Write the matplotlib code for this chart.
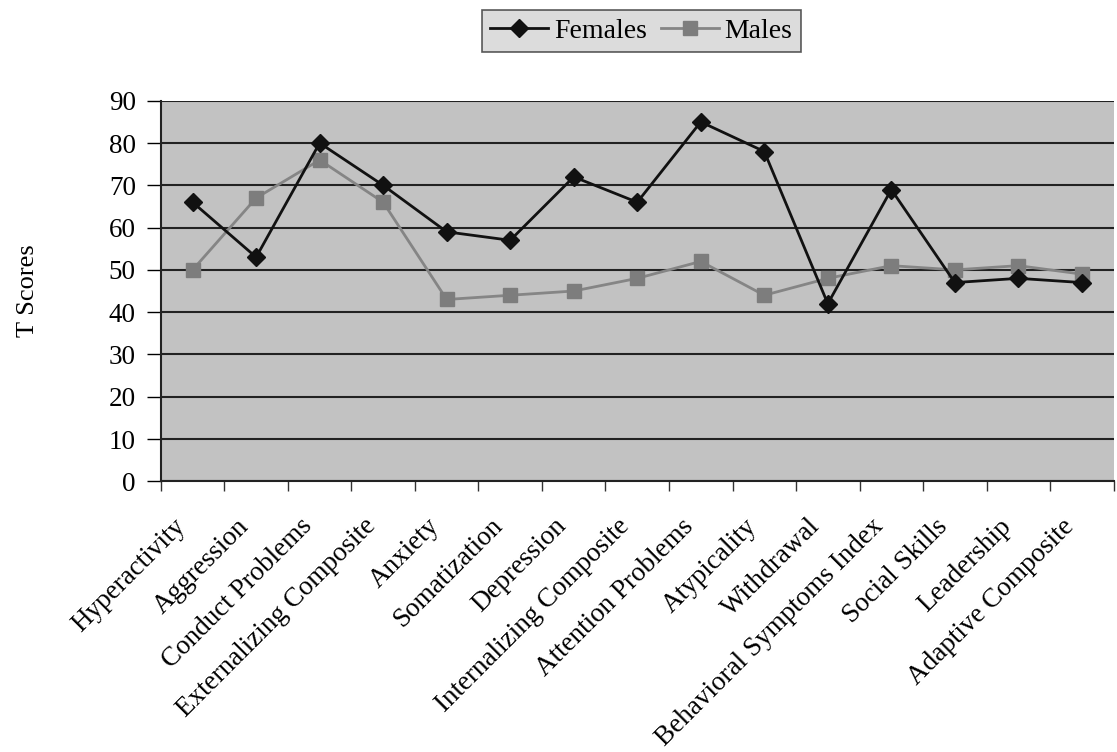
import matplotlib.pyplot as plt
import matplotlib.transforms as mtransforms
import numpy as np

plt.rcParams['font.family'] = ['Liberation Serif', 'DejaVu Serif']

categories = ["Hyperactivity", "Aggression", "Conduct Problems", "Externalizing Composite",
              "Anxiety", "Somatization", "Depression", "Internalizing Composite",
              "Attention Problems", "Atypicality", "Withdrawal", "Behavioral Symptoms Index",
              "Social Skills", "Leadership", "Adaptive Composite"]
females = [66, 53, 80, 70, 59, 57, 72, 66, 85, 78, 42, 69, 47, 48, 47]
males = [50, 67, 76, 66, 43, 44, 45, 48, 52, 44, 48, 51, 50, 51, 49]

fig = plt.figure(figsize=(11.17, 7.52), dpi=100)
ax = fig.add_axes([0.144, 0.360, 0.853, 0.506])
ax.set_facecolor('#c2c2c2')

x = np.arange(len(categories))
ax.plot(x, females, color='#111111', lw=2, marker='D', ms=9, label='Females', zorder=4)
ax.plot(x, males, color='#858585', lw=2, marker='s', ms=10, mfc='#7d7d7d', mec='#7d7d7d',
        label='Males', zorder=3)

ax.set_xlim(-0.5, len(categories) - 0.5)
ax.set_ylim(0, 90)
ax.set_yticks(range(0, 91, 10))
ax.yaxis.grid(True, color='#222222', lw=1.5)
ax.set_axisbelow(True)

ax.set_xticks(x)
ax.set_xticklabels(categories, rotation=45, ha='right', rotation_mode='anchor', fontsize=19.5)
ax.set_xticks(np.arange(-0.5, len(categories)), minor=True)
ax.tick_params(axis='x', which='major', length=0, pad=14)
ax.tick_params(axis='x', which='minor', length=7, width=1, color='#333333')
ax.tick_params(axis='y', length=10, width=1, labelsize=19.5, pad=8)

# nudge the slanted labels down-left like the original
shift = mtransforms.ScaledTranslation(-0.2, -0.13, fig.dpi_scale_trans)
for lab in ax.get_xticklabels():
    lab.set_transform(lab.get_transform() + shift)

for s in ['top', 'right']:
    ax.spines[s].set_visible(False)
ax.spines['left'].set_color('#222222')
ax.spines['bottom'].set_color('#222222')
ax.spines['left'].set_linewidth(1.5)
ax.spines['bottom'].set_linewidth(1.5)

ax.set_ylabel('T Scores', fontsize=19, labelpad=50)

leg = fig.legend(loc='center', bbox_to_anchor=(0.574, 0.959), ncol=2, fontsize=20,
                 frameon=True, fancybox=False, handlelength=2.1, columnspacing=0.5,
                 handletextpad=0.2, borderpad=0.3)
leg.get_frame().set_facecolor('#d4d4d4')
leg.get_frame().set_edgecolor('#333333')
leg.get_frame().set_linewidth(1.2)

fig.savefig('out.png', dpi=100)
